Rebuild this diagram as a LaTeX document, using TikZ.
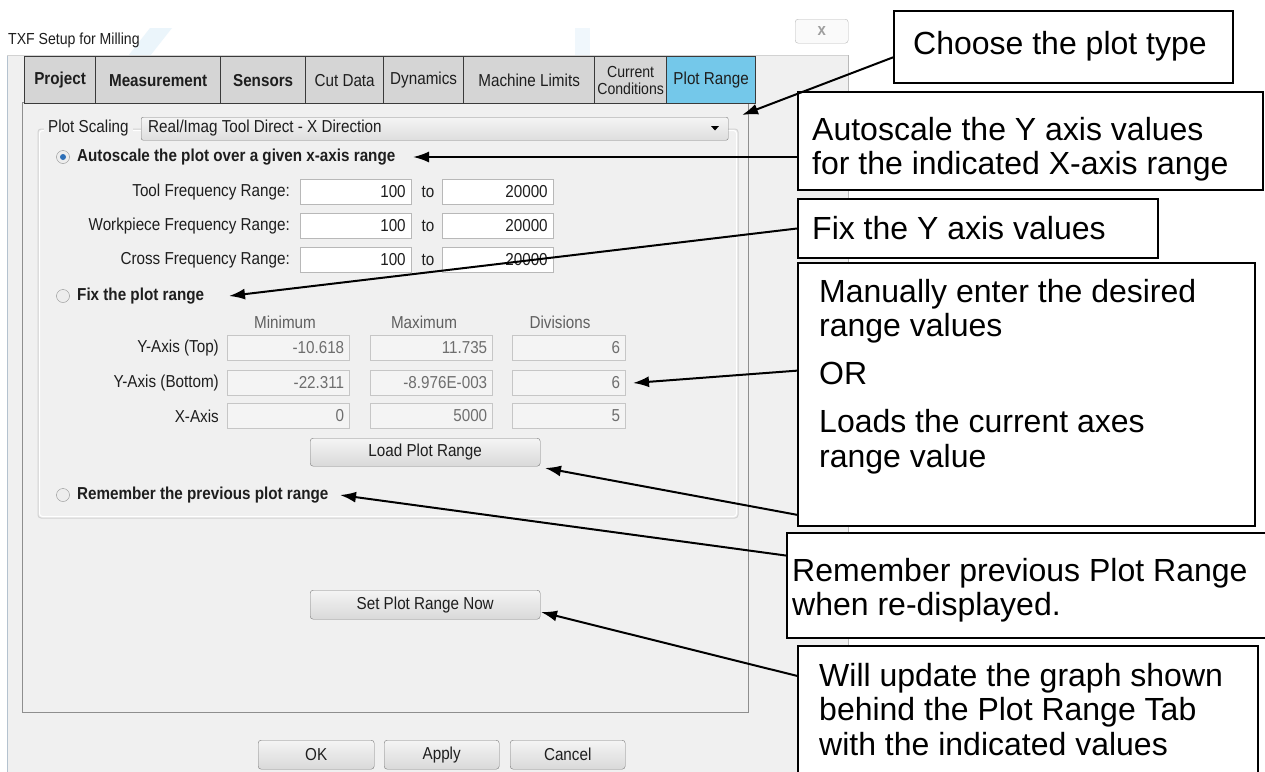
\documentclass[tikz,border=0pt]{standalone}
\usepackage{fontspec}
\setmainfont{Liberation Sans}
\newfontfamily\dlgfont[FakeStretch=0.88]{Liberation Sans}
\usetikzlibrary{arrows.meta,calc}
\definecolor{dlgbg}{HTML}{F0F0F0}
\definecolor{tabgray}{HTML}{D5D5D5}
\definecolor{tabedge}{HTML}{3A3A3A}
\definecolor{tabblue}{HTML}{74C8EA}
\definecolor{panelc}{HTML}{8E8E8E}
\definecolor{gbc}{HTML}{D2D2D2}
\definecolor{dtxt}{HTML}{1E1E1E}
\definecolor{distxt}{HTML}{6E6E6E}
\definecolor{tbc}{HTML}{B8B8B8}
\definecolor{dbc}{HTML}{C6C6C6}
\definecolor{dbf}{HTML}{F4F4F4}
\definecolor{btnc}{HTML}{7A7A7A}
\definecolor{framec}{HTML}{B4C2CF}
\definecolor{radc}{HTML}{8E8F8F}
\definecolor{radblue}{HTML}{2D6FB7}
\definecolor{glass}{HTML}{E3F1FA}
\begin{document}
\begin{tikzpicture}[x=1pt,y=-1pt,
  cbox/.style={draw=black, line width=2pt, fill=white, inner sep=0pt, anchor=north west},
  ctext/.style={inner sep=0pt, anchor=north west, align=left, font=\fontsize{32}{34.5}\selectfont},
  arr/.style={draw=black, line width=2pt, -{Latex[length=16pt,width=11pt]}},
  dtext/.style={inner sep=0pt, text=dtxt, font=\dlgfont\fontsize{17.3}{20}\selectfont},
  btext/.style={dtext, font=\dlgfont\bfseries\fontsize{17.3}{20}\selectfont},
  tabbox/.style={draw=tabedge, line width=1.3pt, fill=tabgray, minimum height=47, inner sep=0pt, anchor=north west, align=center, text=dtxt, font=\dlgfont\fontsize{17.3}{20}\selectfont},
  tbox/.style={draw=tbc, fill=white, text width=100, align=right, inner xsep=5.5, inner ysep=0pt, minimum height=25, anchor=west, text=dtxt, font=\dlgfont\fontsize{17.3}{20}\selectfont},
  dbox/.style={draw=dbc, fill=dbf, align=right, inner xsep=5, inner ysep=0pt, minimum height=25, anchor=west, text=distxt, font=\dlgfont\fontsize{17.3}{20}\selectfont},
  btn/.style={draw=btnc, rounded corners=3pt, top color=white!96!black, bottom color=white!85!black, inner sep=0pt, anchor=north west, text=dtxt, font=\dlgfont\fontsize{17.3}{20}\selectfont},
  radio/.style={circle, draw=radc, fill=white!93!black, minimum size=13, inner sep=0pt},
  raddot/.style={circle, fill=radblue, minimum size=6, inner sep=0pt}
]
\useasboundingbox (0,0) rectangle (1265,771);
\fill[white] (0,0) rectangle (1265,771);

% faint window glass streaks
\fill[glass, opacity=0.7] (150,28) -- (172,28) -- (150,56) -- (128,56) -- cycle;
\fill[glass, opacity=0.5] (575,28) -- (590,28) -- (590,56) -- (575,56) -- cycle;

% dialog body and frame
\fill[dlgbg] (7,55) rectangle (848,775);
\draw[framec, line width=1pt] (7,55) -- (7,775);
\draw[gray!55, line width=1pt] (848,55) -- (848,775);
\draw[gray!35, line width=0.8pt] (7,55) -- (848,55);
\node[dtext, anchor=west, font=\dlgfont\fontsize{16}{18}\selectfont] (title) at (8,40) {TXF Setup for Milling};
\node[draw=gray!55, rounded corners=3pt, fill=white!98!black, minimum width=53, minimum height=24, anchor=north west, inner sep=0pt, text=gray!75, font=\dlgfont\bfseries\fontsize{17}{17}\selectfont] (closebtn) at (795,19) {x};

% panel
\draw[draw=panelc, fill=dlgbg, line width=1pt] (22,102) rectangle (748,712);

% tabs
\node[tabbox, minimum width=71, font=\dlgfont\bfseries\fontsize{17.3}{20}\selectfont] (tabProject) at (24,56) {Project};
\node[tabbox, minimum width=125, font=\dlgfont\bfseries\fontsize{17.3}{20}\selectfont] (tabMeas) at (95,56) {Measurement};
\node[tabbox, minimum width=85, font=\dlgfont\bfseries\fontsize{17.3}{20}\selectfont] (tabSens) at (220,56) {Sensors};
\node[tabbox, minimum width=78] (tabCut) at (305,56) {Cut Data};
\node[tabbox, minimum width=80] (tabDyn) at (383,56) {Dynamics};
\node[tabbox, minimum width=131] (tabMach) at (463,56) {Machine Limits};
\node[tabbox, minimum width=72, font=\dlgfont\fontsize{16}{17}\selectfont] (tabCurr) at (594,56) {Current\\Conditions};
\node[tabbox, minimum width=89, fill=tabblue] (tabPlot) at (666,56) {Plot Range};

% group box
\draw[gbc, line width=1pt, rounded corners=3pt] (38,129) rectangle (738,518);
\draw[white, line width=1pt, rounded corners=3pt] (39.5,130.5) rectangle (736.5,516.5);
\node[dtext, fill=dlgbg, anchor=west, inner xsep=4pt] (pslabel) at (44,128) {Plot Scaling};
\node[draw=btnc, top color=white!96!black, bottom color=white!87!black, rounded corners=2pt, minimum width=587, minimum height=23, inner sep=0pt, anchor=north west] (combo) at (141,117) {};
\node[dtext, anchor=west] (combotext) at (148,128) {Real/Imag Tool Direct - X Direction};
\fill[black] (711,126) -- (719,126) -- (715,130.5) -- cycle;

% autoscale section
\node[radio] (rad1) at (63,157) {};
\node[raddot] (rad1dot) at (63,157) {};
\node[btext, anchor=west] (lab1) at (77,157) {Autoscale the plot over a given x-axis range};

\node[dtext, anchor=east] (tfl) at (290,192) {Tool Frequency Range:};
\node[tbox] (tf1) at (300,192) {100};
\node[dtext] (tfto) at (428,192) {to};
\node[tbox] (tf2) at (442,192) {20000};

\node[dtext, anchor=east] (wfl) at (290,226) {Workpiece Frequency Range:};
\node[tbox] (wf1) at (300,226) {100};
\node[dtext] (wfto) at (428,226) {to};
\node[tbox] (wf2) at (442,226) {20000};

\node[dtext, anchor=east] (cfl) at (290,260) {Cross Frequency Range:};
\node[tbox] (cf1) at (300,260) {100};
\node[dtext] (cfto) at (428,260) {to};
\node[tbox] (cf2) at (442,260) {20000};

% fix section
\node[radio] (rad2) at (63,296) {};
\node[btext, anchor=west] (lab2) at (77,296) {Fix the plot range};

\node[dtext, text=gray!75!black] (hmin) at (285,322) {Minimum};
\node[dtext, text=gray!75!black] (hmax) at (424,322) {Maximum};
\node[dtext, text=gray!75!black] (hdiv) at (560,322) {Divisions};

\node[dtext, anchor=east] (rtl) at (219,348) {Y-Axis (Top)};
\node[dbox, text width=112] (rt1) at (227,348) {-10.618};
\node[dbox, text width=112] (rt2) at (370,348) {11.735};
\node[dbox, text width=103] (rt3) at (512,348) {6};

\node[dtext, anchor=east] (rbl) at (219,383) {Y-Axis (Bottom)};
\node[dbox, text width=112] (rb1) at (227,383) {-22.311};
\node[dbox, text width=112] (rb2) at (370,383) {-8.976E-003};
\node[dbox, text width=103] (rb3) at (512,383) {6};

\node[dtext, anchor=east] (rxl) at (219,416) {X-Axis};
\node[dbox, text width=112] (rx1) at (227,416) {0};
\node[dbox, text width=112] (rx2) at (370,416) {5000};
\node[dbox, text width=103] (rx3) at (512,416) {5};

\node[btn, minimum width=230, minimum height=28] (loadbtn) at (310,438) {Load Plot Range};

% remember section
\node[radio] (rad3) at (63,495) {};
\node[btext, anchor=west] (lab3) at (77,495) {Remember the previous plot range};

\node[btn, minimum width=230, minimum height=29] (setbtn) at (310,590) {Set Plot Range Now};

% bottom buttons
\node[btn, minimum width=116, minimum height=29] (okbtn) at (258,740) {OK};
\node[btn, minimum width=115, minimum height=29] (applybtn) at (384,740) {Apply};
\node[btn, minimum width=115, minimum height=29] (cancelbtn) at (510,740) {Cancel};

% callout boxes
\node[cbox, minimum width=339, minimum height=72] (c1) at (893,10) {};
\node[ctext] (t1) at (913,31) {Choose the plot type};
\node[cbox, minimum width=465, minimum height=98] (c2) at (797,91) {};
\node[ctext] (t2) at (812,117) {Autoscale the Y axis values\\for the indicated X-axis range};
\node[cbox, minimum width=360, minimum height=59] (c3) at (797,198) {};
\node[ctext] (t3) at (812,216) {Fix the Y axis values};
\node[cbox, minimum width=457, minimum height=263] (c4) at (797,262) {};
\node[ctext] (t4) at (819,279) {Manually enter the desired\\range values\\[13pt]OR\\[14pt]Loads the current axes\\range value};
\node[cbox, minimum width=490, minimum height=105] (c5) at (786,532) {};
\node[ctext] (t5) at (792,558) {Remember previous Plot Range\\when re-displayed.};
\node[cbox, minimum width=460, minimum height=130] (c6) at (797,645) {};
\node[ctext] (t6) at (819,663) {Will update the graph shown\\behind the Plot Range Tab\\with the indicated values};

% arrow targets
\coordinate (p1) at (742,115);
\coordinate (p2) at (413,157);
\coordinate (p3) at (229,296);
\coordinate (p4) at (633,383);
\coordinate (p5) at (545,468);
\coordinate (p6) at (340,495);
\coordinate (p7) at (541,612);

% connectors
\draw[arr] ($(c1.north west)!0.64!(c1.south west)$) -- (p1);
\draw[arr] (c2.west |- p2) -- (p2);
\draw[arr] (c3.west) -- (p3);
\draw[arr] ($(c4.north west)!0.41!(c4.south west)$) -- (p4);
\draw[arr] ($(c4.north west)!0.954!(c4.south west)$) -- (p5);
\draw[arr] ($(c5.north west)!0.22!(c5.south west)$) -- (p6);
\draw[arr] ($(c6.north west)!0.234!(c6.south west)$) -- (p7);
\end{tikzpicture}
\end{document}
